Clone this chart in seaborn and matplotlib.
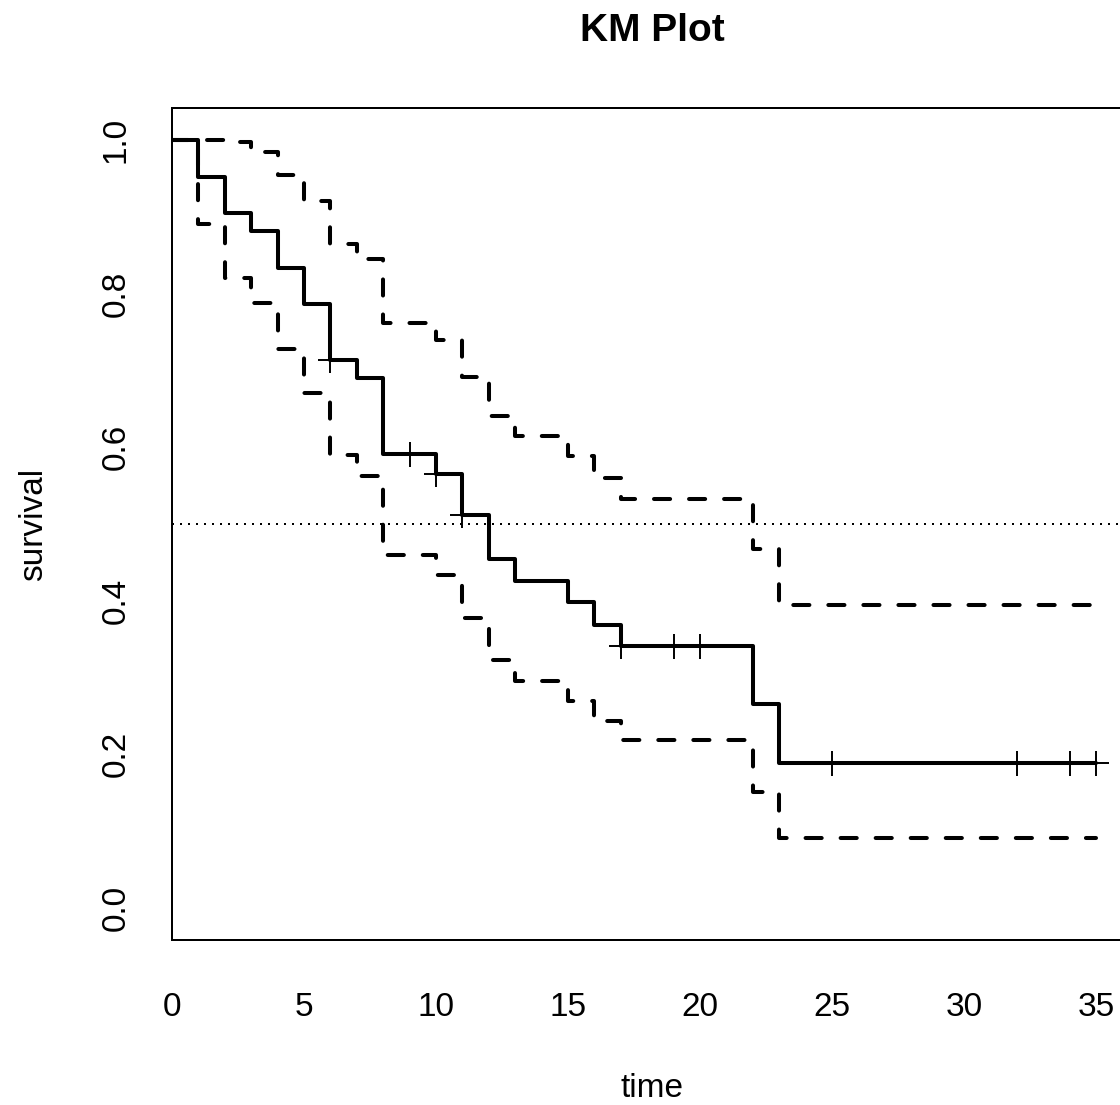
import matplotlib
matplotlib.use("Agg")
import matplotlib.pyplot as plt
import seaborn as sns
import pandas as pd

# ---- data ----
time = [0, 1, 2, 3, 4, 5, 6, 7, 8, 10, 11, 12, 13, 15, 16, 17, 22, 23, 35]
surv = [1.0, 0.952, 0.905, 0.881, 0.833, 0.786, 0.714, 0.690, 0.591, 0.565,
        0.512, 0.455, 0.426, 0.398, 0.369, 0.341, 0.265, 0.189, 0.189]
upper = [1.0, 1.0, 0.998, 0.985, 0.954, 0.920, 0.865, 0.845, 0.762, 0.739,
         0.692, 0.641, 0.615, 0.588, 0.560, 0.532, 0.467, 0.395, 0.395]
lower = [1.0, 0.890, 0.820, 0.788, 0.728, 0.671, 0.590, 0.563, 0.459, 0.433,
         0.378, 0.323, 0.296, 0.269, 0.244, 0.219, 0.151, 0.091, 0.091]
censor_time = [6, 9, 10, 11, 17, 19, 20, 25, 32, 34, 35]
censor_surv = [0.714, 0.591, 0.565, 0.512, 0.341, 0.341, 0.341, 0.189, 0.189, 0.189, 0.189]
x_ticks = [0, 5, 10, 15, 20, 25, 30, 35]
y_ticks = [0.0, 0.2, 0.4, 0.6, 0.8, 1.0]
y_ticklabels = ["0.0", "0.2", "0.4", "0.6", "0.8", "1.0"]
median_line = 0.5

df = pd.DataFrame({"time": time, "surv": surv, "upper": upper, "lower": lower})
cens = pd.DataFrame({"time": censor_time, "surv": censor_surv})

sns.set_style("white")
plt.rcParams["font.family"] = ["Liberation Sans", "DejaVu Sans"]
plt.rcParams["text.color"] = "black"
plt.rcParams["axes.labelcolor"] = "black"
plt.rcParams["xtick.color"] = "black"
plt.rcParams["ytick.color"] = "black"

W, H = 1120, 1105
fig = plt.figure(figsize=(W / 100, H / 100), dpi=100)
L, R, T, B = 172, 1133, 108, 940
ax = fig.add_axes([L / W, (H - B) / H, (R - L) / W, (B - T) / H])

lw = 2.9
dash = (0, (4.0, 4.7))
sns.lineplot(data=df, x="time", y="upper", ax=ax, color="black", lw=lw,
             drawstyle="steps-post", estimator=None, sort=False,
             linestyle=dash, dash_capstyle="round")
sns.lineplot(data=df, x="time", y="lower", ax=ax, color="black", lw=lw,
             drawstyle="steps-post", estimator=None, sort=False,
             linestyle=dash, dash_capstyle="round")
sns.lineplot(data=df, x="time", y="surv", ax=ax, color="black", lw=lw,
             drawstyle="steps-post", estimator=None, sort=False)
sns.scatterplot(data=cens, x="time", y="surv", ax=ax, marker="+", s=18 ** 2,
                color="black", linewidth=1.4, zorder=5)
ax.axhline(median_line, color="black", lw=1.44, linestyle=(0, (1, 3)))

ax.set_xlim(0, 36.4)
ax.set_ylim(-0.041667, 1.041667)
ax.set_xticks(x_ticks)
ax.set_xticklabels([str(t) for t in x_ticks])
ax.set_yticks(y_ticks)
ax.set_yticklabels(y_ticklabels, rotation=90, va="center")

ax.tick_params(axis="both", direction="out", length=15, width=1.44,
               colors="black", labelsize=24)
ax.tick_params(axis="x", pad=22.5)
ax.tick_params(axis="y", pad=14)
for s in ax.spines.values():
    s.set_visible(True)
    s.set_color("black")
    s.set_linewidth(1.44)

ax.set_xlabel("time", fontsize=24, color="black")
ax.set_ylabel("survival", fontsize=24, color="black")
ax.xaxis.set_label_coords(0.5, (B - 1097) / (B - T))
ax.xaxis.label.set_va("baseline")
ax.yaxis.set_label_coords((49 - L) / (R - L), 0.5)

fig.text((L + R) / 2 / W, 1 - 41 / H, "KM Plot", ha="center", va="baseline",
         fontsize=28, fontweight="bold", color="black")

fig.savefig("out.png", dpi=100)
